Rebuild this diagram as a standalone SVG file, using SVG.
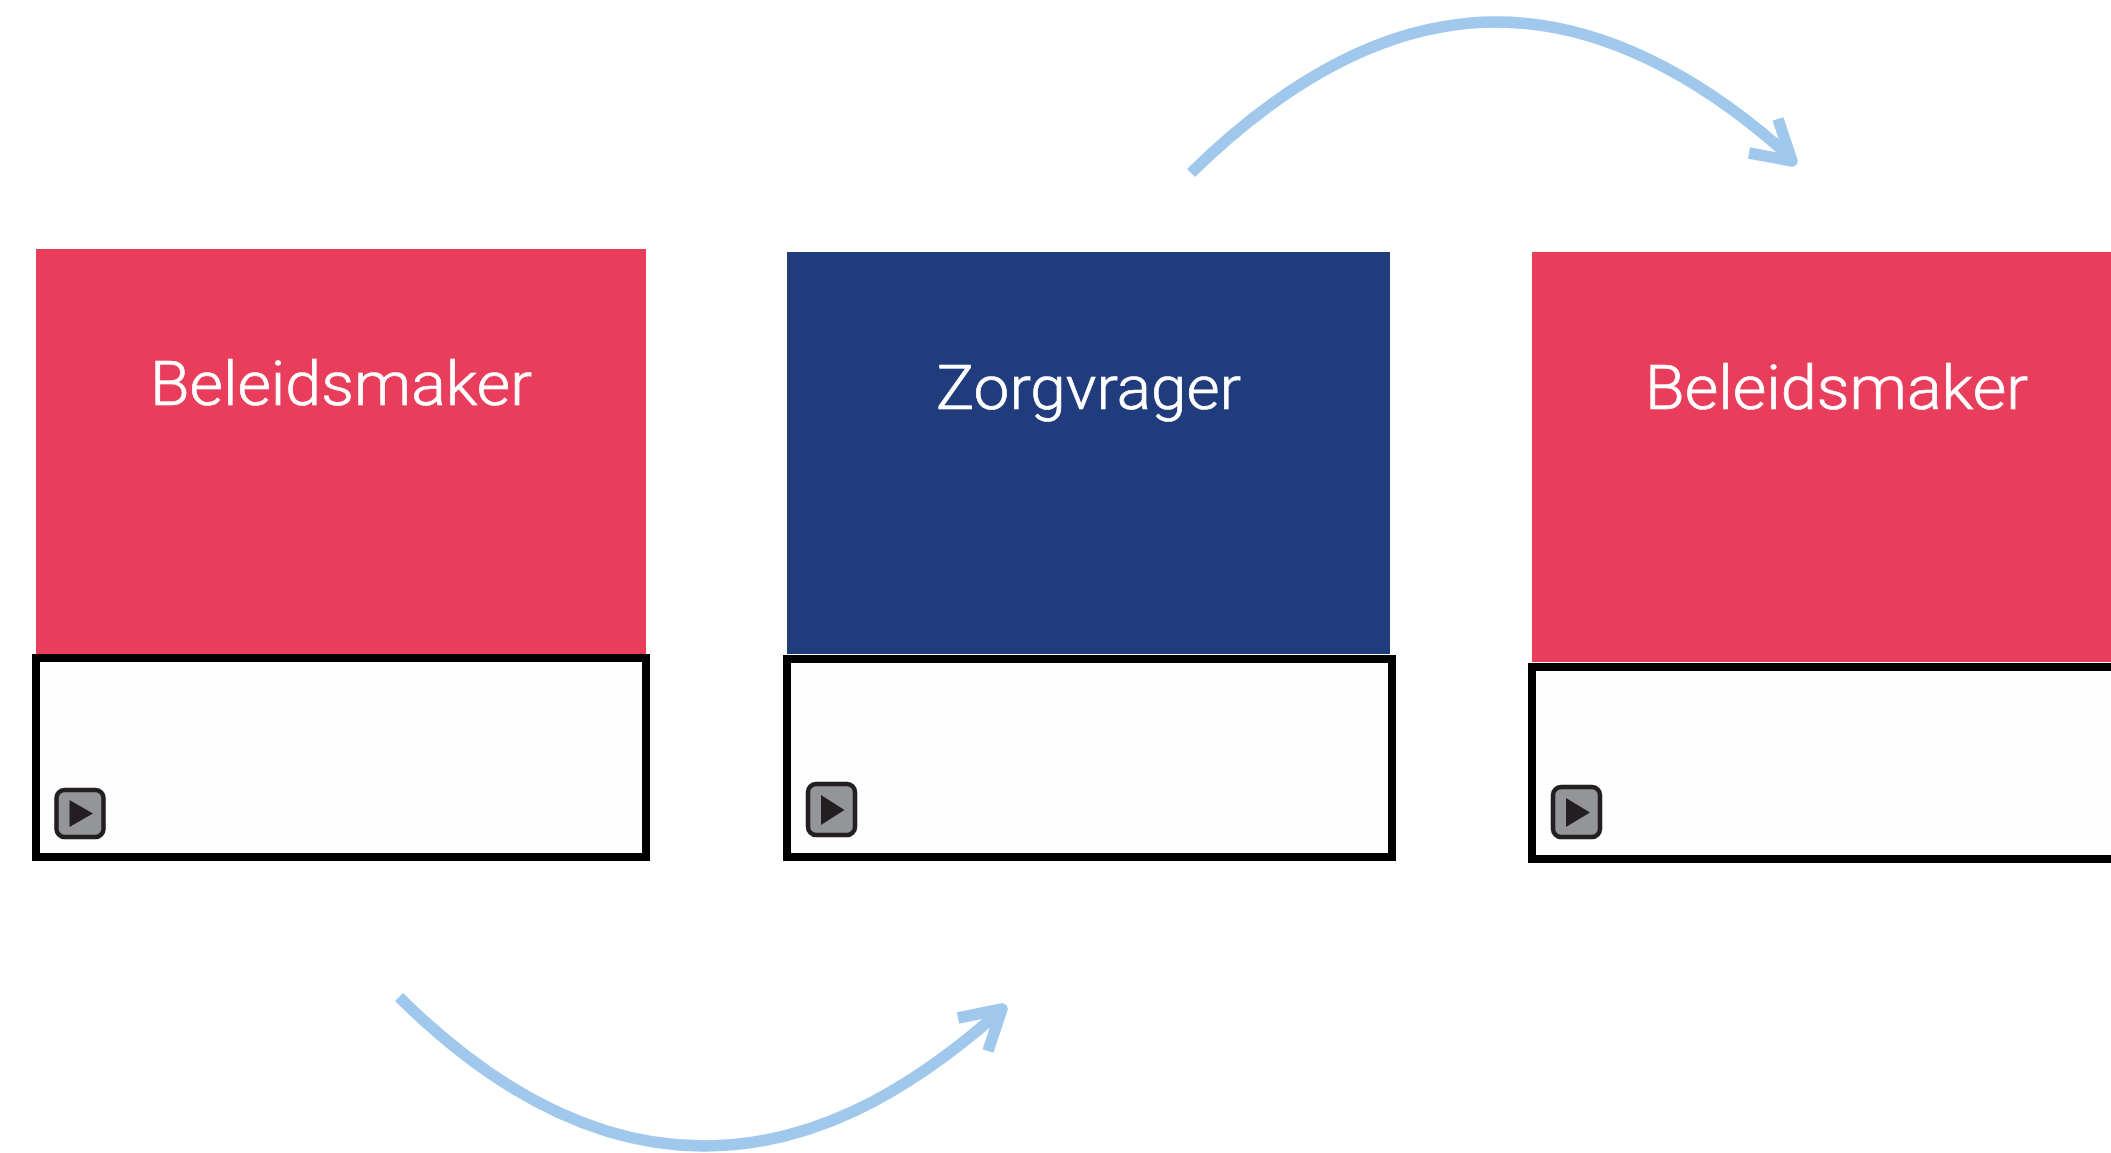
<svg xmlns="http://www.w3.org/2000/svg" width="2111" height="1153" viewBox="0 0 2111 1153">
<style>
.red{fill:#e93d5c}.navy{fill:#213c7c}
.box{fill:#fefefe;stroke:#000;stroke-width:8}
.btn{fill:#939598;stroke:#231f20;stroke-width:4.5}
.tri{fill:#231f20}
.lbl{font-family:"Roboto","Liberation Sans",sans-serif;font-weight:300;font-size:62px;fill:#fff;stroke:#fff;stroke-width:.7}
.arc{fill:none;stroke:#a0c7ec;stroke-width:11.500}
.head{fill:none;stroke:#a0c7ec;stroke-width:11.500;stroke-linejoin:round}
</style>
<rect width="2111" height="1153" fill="#fff"/>
<g id="node-beleidsmaker-1">
<rect class="red" x="36" y="249" width="610" height="405"/>
<rect class="box" x="36" y="658" width="610" height="199"/>
<text class="lbl" x="150" y="405" textLength="382" lengthAdjust="spacingAndGlyphs">Beleidsmaker</text>
<rect class="btn" x="56.500" y="790" width="47" height="47" rx="8"/>
<path class="tri" d="M69.500 800V827L93 813.500Z"/>
</g>
<g id="node-zorgvrager">
<rect class="navy" x="787" y="252" width="603" height="402"/>
<rect class="box" x="787" y="659" width="605" height="198"/>
<text class="lbl" x="936" y="409" textLength="305" lengthAdjust="spacingAndGlyphs">Zorgvrager</text>
<rect class="btn" x="808" y="784" width="47" height="51" rx="8"/>
<path class="tri" d="M821 795V825L844.500 810Z"/>
</g>
<g id="node-beleidsmaker-2">
<rect class="red" x="1532" y="252" width="590" height="410"/>
<rect class="box" x="1532" y="667" width="600" height="192"/>
<text class="lbl" x="1645" y="409" textLength="383" lengthAdjust="spacingAndGlyphs">Beleidsmaker</text>
<rect class="btn" x="1553" y="787" width="47" height="50" rx="8"/>
<path class="tri" d="M1566 798V827L1590 812.500Z"/>
</g>
<g id="connectors">
<path class="arc" d="M1191 173C1290 76 1392 22 1496 22C1600 22 1700 76 1788 155"/>
<path class="head" d="M1749 153L1792 161L1778 119"/>
<path class="arc" d="M399 997C498 1095 599 1146 704 1146C810 1146 905 1095 998 1013"/>
<path class="head" d="M958 1018L1002 1009L988 1051"/>
</g>
</svg>
